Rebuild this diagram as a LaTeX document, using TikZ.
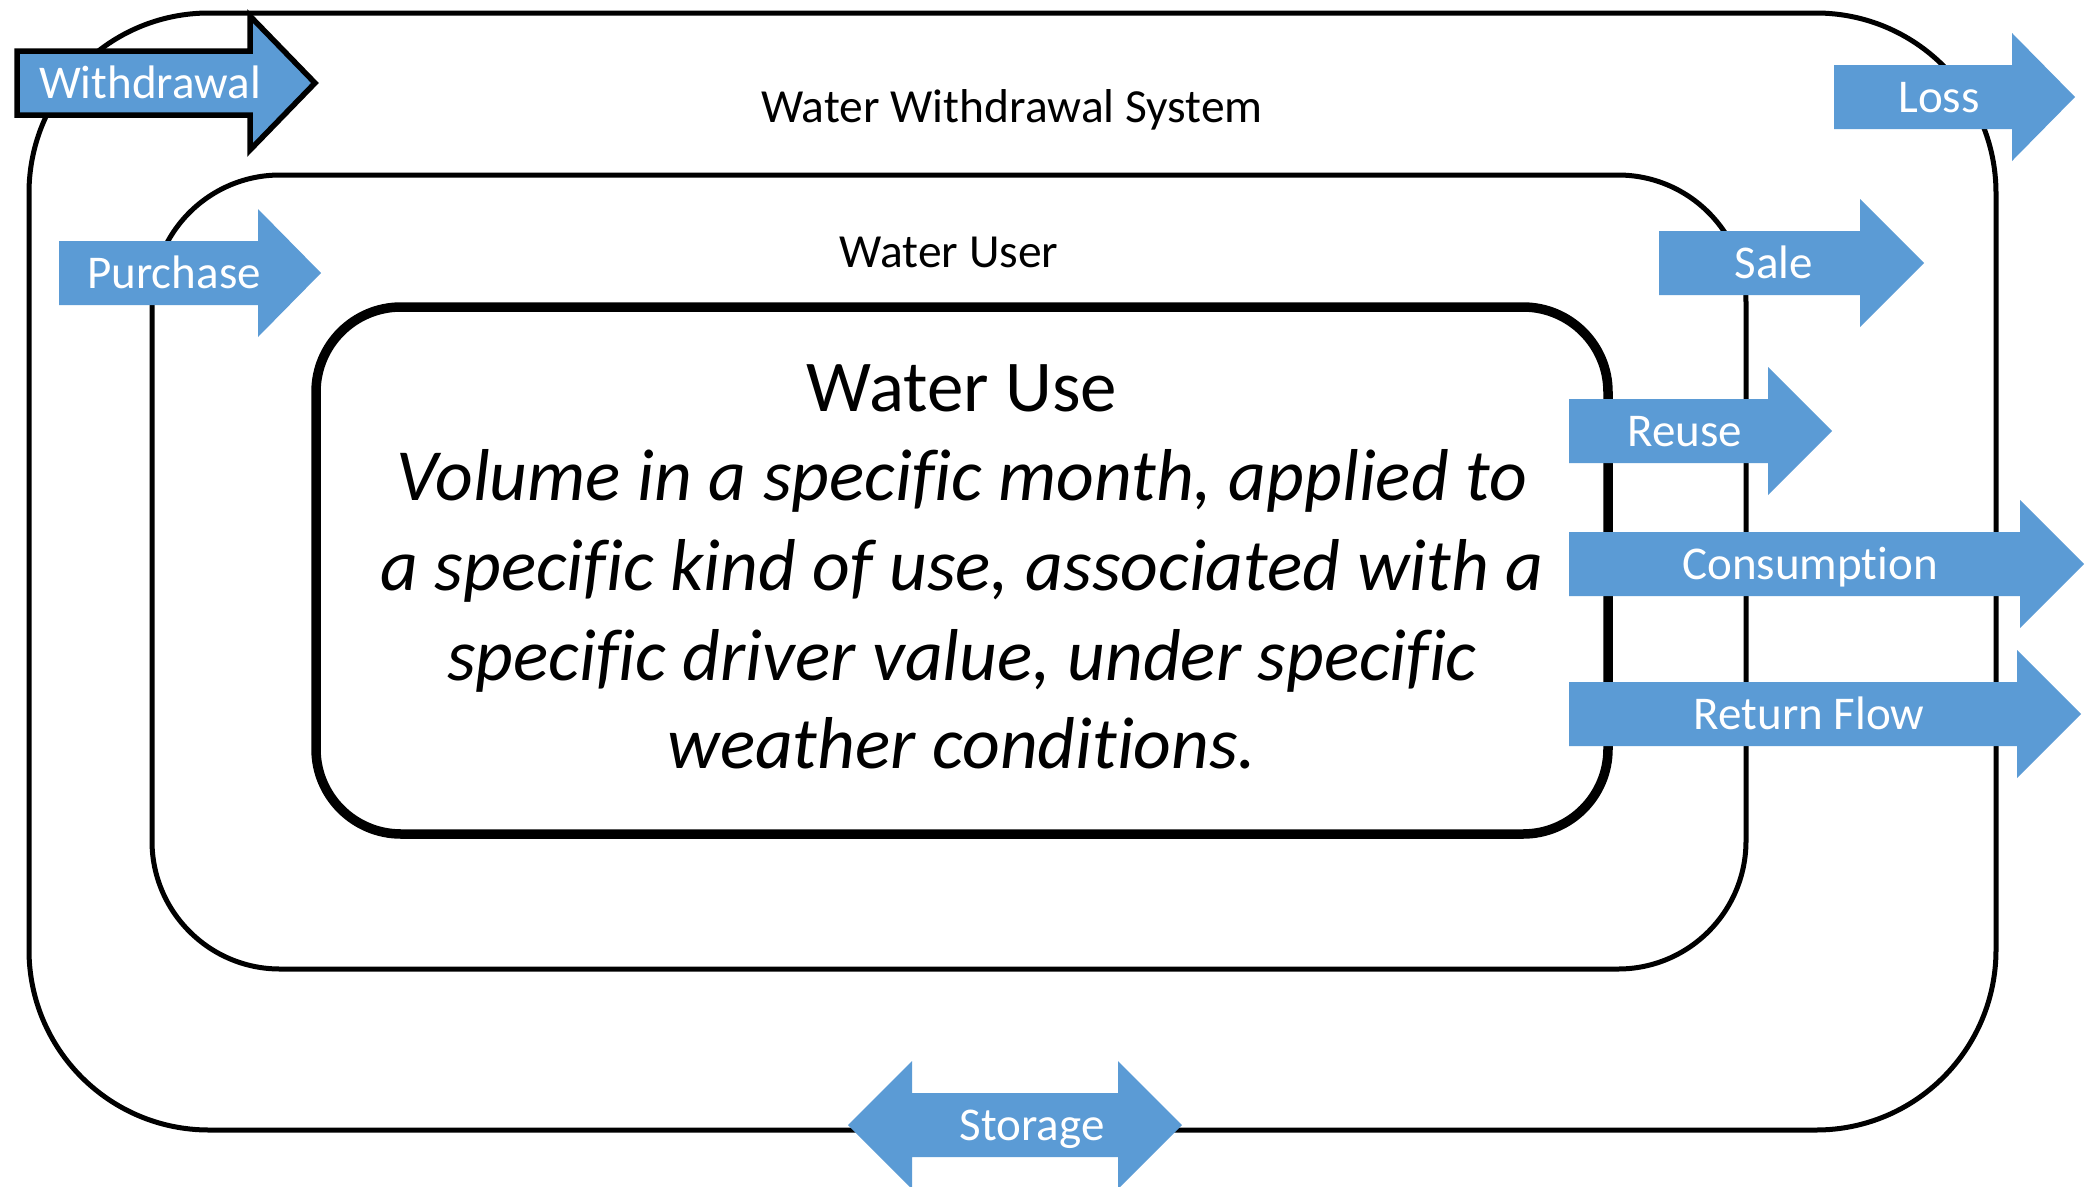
\documentclass[tikz,border=0pt]{standalone}
\usepackage{fontspec}
\setmainfont{Carlito}[Ligatures=NoCommon]
\definecolor{arrowblue}{HTML}{5B9BD5}
\newcommand{\wsRArrow}[4]{% body start, head base, tip, centre y
  \fill[arrowblue] (#1,#4-32) -- (#2,#4-32) -- (#2,#4-64) -- (#3,#4) -- (#2,#4+64) -- (#2,#4+32) -- (#1,#4+32) -- cycle;}
\tikzset{
  boxline/.style={draw=black, line width=#1, line join=round},
  flowlabel/.style={text=white, font=\fontsize{47bp}{56bp}\selectfont, inner sep=0pt, anchor=base},
  titlelabel/.style={text=black, font=\fontsize{47.5bp}{56bp}\selectfont, inner sep=0pt, anchor=base},
  bodylabel/.style={text=black, font=\fontsize{73bp}{89bp}\selectfont, inner sep=0pt, anchor=base},
  bodyitalic/.style={text=black, font=\fontsize{73.5bp}{89bp}\selectfont\itshape, inner sep=0pt, anchor=base}
}
\begin{document}
\begin{tikzpicture}[x=1bp, y=-1bp]
\useasboundingbox (0,0) rectangle (2088,1186);
\fill[white] (0,0) rectangle (2088,1186);
% boxes
\draw[boxline=5bp, rounded corners=180bp] (29,13) rectangle (1996,1130);
\draw[boxline=5bp, rounded corners=128bp] (152,175) rectangle (1746,969);
\draw[boxline=9.5bp, rounded corners=85bp] (316,307) rectangle (1608,834);
% box titles
\node[titlelabel] (wws) at (1012,122) {Water Withdrawal System};
\node[titlelabel] (wuser) at (949,267) {Water User};
\node[bodylabel] (wuse) at (962,411) {Water Use};
\node[bodyitalic] (l1) at (962,500) {Volume in a specific month, applied to};
\node[bodyitalic] (l2) at (962,590) {a specific kind of use, associated with a};
\node[bodyitalic] (l3) at (962,680) {specific driver value, under specific};
\node[bodyitalic] (l4) at (962,768) {weather conditions.};
% withdrawal arrow with outline
\filldraw[fill=arrowblue, draw=black, line width=5.5bp, miter limit=10]
  (17,51) -- (250,51) -- (250,16) -- (315,83) -- (250,150) -- (250,115) -- (17,115) -- cycle;
\node[flowlabel] (withdrawal) at (150,98) {Withdrawal};
% other arrows
\wsRArrow{59}{258}{321}{273}
\node[flowlabel] (purchase) at (174,288) {Purchase};
\wsRArrow{1834}{2012}{2075}{97}
\node[flowlabel] (loss) at (1939,112) {Loss};
\wsRArrow{1659}{1860}{1924}{263}
\node[flowlabel] (sale) at (1774,278) {Sale};
\wsRArrow{1569}{1768}{1832}{431}
\node[flowlabel] (reuse) at (1685,446) {Reuse};
\wsRArrow{1569}{2020}{2084}{564}
\node[flowlabel] (consumption) at (1810,579) {Consumption};
\wsRArrow{1569}{2017}{2081}{714}
\node[flowlabel] (returnflow) at (1809,729) {Return Flow};
% storage double arrow
\fill[arrowblue] (848,1125) -- (912,1061) -- (912,1093) -- (1118,1093) -- (1118,1061) -- (1182,1125)
  -- (1118,1189) -- (1118,1157) -- (912,1157) -- (912,1189) -- cycle;
\node[flowlabel] (storage) at (1032,1140) {Storage};
\end{tikzpicture}
\end{document}
